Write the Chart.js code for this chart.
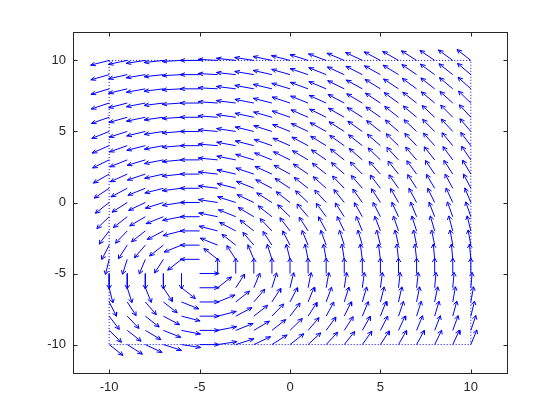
<!DOCTYPE html>
<html>
<head>
<meta charset="utf-8">
<script src="https://cdn.jsdelivr.net/npm/chart.js@4.4.1/dist/chart.umd.min.js"></script>
<style>
  html, body { margin: 0; background: #fff; }
  #wrap { width: 560px; height: 420px; }
</style>
</head>
<body>
<div id="wrap"><canvas id="quiver" width="560" height="420"></canvas></div>
<script>
// grid of arrow tails
const xs = [-10, -9, -8, -7, -6, -5, -4, -3, -2, -1, 0, 1, 2, 3, 4, 5, 6, 7, 8, 9, 10];
const ys = [10, 9, 8, 7, 6, 5, 4, 3, 2, 1, 0, -1, -2, -3, -4, -5, -6, -7, -8, -9, -10];

// arrow direction in degrees (data space), one row per y value
const angles = [
  [198, 195, 191, 188, 184, 180, 176, 172, 169, 165, 162, 158, 155, 152, 149, 146, 144, 141, 139, 137, 135],
  [200, 196, 192, 188, 184, 180, 176, 172, 168, 164, 160, 157, 153, 150, 147, 145, 142, 139, 137, 135, 133],
  [201, 197, 193, 189, 184, 180, 176, 171, 167, 163, 159, 155, 152, 148, 145, 142, 140, 137, 135, 133, 131],
  [203, 198, 194, 189, 185, 180, 175, 171, 166, 162, 157, 153, 150, 146, 143, 140, 137, 135, 133, 131, 129],
  [204, 200, 195, 190, 185, 180, 175, 170, 165, 160, 156, 151, 148, 144, 141, 138, 135, 133, 130, 128, 126],
  [207, 202, 197, 191, 186, 180, 174, 169, 163, 158, 153, 149, 145, 141, 138, 135, 132, 130, 128, 126, 124],
  [209, 204, 198, 193, 186, 180, 174, 167, 162, 156, 151, 146, 142, 138, 135, 132, 129, 127, 125, 123, 121],
  [212, 207, 201, 194, 187, 180, 173, 166, 159, 153, 148, 143, 139, 135, 132, 129, 126, 124, 122, 120, 118],
  [216, 210, 203, 196, 188, 180, 172, 164, 157, 150, 145, 139, 135, 131, 128, 125, 122, 120, 118, 117, 115],
  [220, 214, 207, 198, 189, 180, 171, 162, 153, 146, 140, 135, 131, 127, 124, 121, 119, 117, 115, 113, 112],
  [225, 219, 211, 202, 191, 180, 169, 158, 149, 141, 135, 130, 126, 122, 119, 117, 114, 113, 111, 110, 108],
  [231, 225, 217, 207, 194, 180, 166, 153, 143, 135, 129, 124, 120, 117, 114, 112, 110, 108, 107, 106, 105],
  [239, 233, 225, 214, 198, 180, 162, 146, 135, 127, 121, 117, 113, 111, 108, 107, 105, 104, 103, 102, 101],
  [248, 243, 236, 225, 207, 180, 153, 135, 124, 117, 112, 108, 106, 104, 103, 101, 100, 99, 99, 98, 98],
  [259, 256, 252, 243, 225, 180, 135, 117, 108, 104, 101, 99, 98, 97, 96, 96, 95, 95, 94, 94, 94],
  [270, 270, 270, 270, 270, 0, 90, 90, 90, 90, 90, 90, 90, 90, 90, 90, 90, 90, 90, 90, 90],
  [-79, -76, -72, -63, -45, 0, 45, 63, 72, 76, 79, 81, 82, 83, 84, 84, 85, 85, 86, 86, 86],
  [-68, -63, -56, -45, -27, 0, 27, 45, 56, 63, 68, 72, 74, 76, 77, 79, 80, 81, 81, 82, 82],
  [-59, -53, -45, -34, -18, 0, 18, 34, 45, 53, 59, 63, 67, 69, 72, 73, 75, 76, 77, 78, 79],
  [-51, -45, -37, -27, -14, 0, 14, 27, 37, 45, 51, 56, 60, 63, 66, 68, 70, 72, 73, 74, 75],
  [-45, -39, -31, -22, -11, 0, 11, 22, 31, 39, 45, 50, 54, 58, 61, 63, 66, 67, 69, 70, 72]
];
const arrowLen = 1.08;

// dotted boundary square
const boxX = [-10, 10, 10, -10, -10];
const boxY = [10, 10, -10, -10, 10];

const xTicks = [-10, -5, 0, 5, 10];
const yTicks = [-10, -5, 0, 5, 10];

const GAP = { x: null, y: null };
const arrowPts = [];
ys.forEach((y, r) => {
  xs.forEach((x, c) => {
    const a = angles[r][c] * Math.PI / 180;
    const u = arrowLen * Math.cos(a);
    const v = arrowLen * Math.sin(a);
    const tx = x + u, ty = y + v;
    const bx = x + u * 0.75, by = y + v * 0.75;
    const w = 0.12;
    arrowPts.push({ x: x, y: y }, { x: tx, y: ty }, GAP,
      { x: bx - v * w, y: by + u * w }, { x: tx, y: ty }, { x: bx + v * w, y: by - u * w }, GAP);
  });
});
const boxPts = boxX.map((x, i) => ({ x: x, y: boxY[i] }));

const axisColor = "#262626";
const tickFont = { family: "Liberation Sans, Arial, sans-serif", size: 13 };

// Octave-like frame with inward ticks on all sides
const frame = {
  id: "frame",
  afterDraw(chart) {
    const { ctx, chartArea: a, scales } = chart;
    ctx.save();
    ctx.strokeStyle = axisColor;
    ctx.lineWidth = 1;
    const L = Math.round(a.left) + 0.5, R = Math.round(a.right) + 0.5;
    const T = Math.round(a.top) + 0.5, B = Math.round(a.bottom) + 0.5;
    ctx.strokeRect(L, T, R - L, B - T);
    ctx.beginPath();
    xTicks.forEach(v => {
      const px = Math.round(scales.x.getPixelForValue(v)) + 0.5;
      ctx.moveTo(px, B); ctx.lineTo(px, B - 4);
      ctx.moveTo(px, T); ctx.lineTo(px, T + 4);
    });
    yTicks.forEach(v => {
      const py = Math.round(scales.y.getPixelForValue(v)) + 0.5;
      ctx.moveTo(L, py); ctx.lineTo(L + 4, py);
      ctx.moveTo(R, py); ctx.lineTo(R - 4, py);
    });
    ctx.stroke();
    ctx.restore();
  }
};

new Chart(document.getElementById("quiver").getContext("2d"), {
  type: "line",
  data: {
    datasets: [
      {
        data: boxPts,
        borderColor: "#0000ff",
        borderWidth: 1,
        borderDash: [1, 2],
        pointRadius: 0,
      },
      {
        data: arrowPts,
        borderColor: "#0000ff",
        borderWidth: 1,
        pointRadius: 0,
        spanGaps: false,
      },
    ],
  },
  options: {
    responsive: false,
    animation: false,
    events: [],
    layout: { padding: { top: 32, right: 53, left: 0, bottom: 0 } },
    plugins: { legend: { display: false }, tooltip: { enabled: false } },
    scales: {
      x: {
        type: "linear",
        min: -12,
        max: 12,
        grid: { display: false, drawTicks: false },
        border: { display: false },
        afterBuildTicks: s => { s.ticks = xTicks.map(v => ({ value: v })); },
        afterFit: s => { s.height = 47; },
        ticks: { padding: 7, color: axisColor, font: tickFont, callback: v => String(v) },
      },
      y: {
        type: "linear",
        min: -12,
        max: 12,
        grid: { display: false, drawTicks: false },
        border: { display: false },
        afterBuildTicks: s => { s.ticks = yTicks.map(v => ({ value: v })); },
        afterFit: s => { s.width = 73; },
        ticks: { padding: 7, color: axisColor, font: tickFont, callback: v => String(v) },
      },
    },
  },
  plugins: [frame],
});
</script>
</body>
</html>
